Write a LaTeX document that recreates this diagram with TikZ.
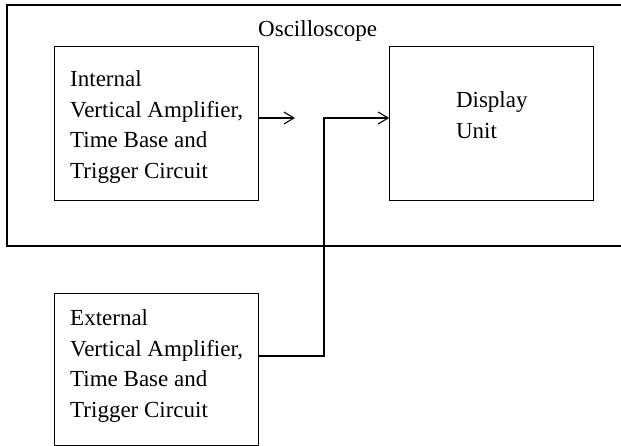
\documentclass[tikz,border=0pt]{standalone}
\usepackage{fontspec}
\setmainfont{Liberation Serif}
\usetikzlibrary{arrows.meta,positioning}
\newcommand{\boxfont}{\fontsize{23}{30.5}\selectfont}
\tikzset{
    %Define standard arrow tip
    >={Straight Barb[length=10pt,width=12pt]},
    %Define style for boxes
    block/.style={
           rectangle,
           draw=black, line width=1.2pt,
           minimum width=204pt,
           inner xsep=0pt,
           inner ysep=0pt,
           font=\boxfont,
           align=left},
    % Define frame and wire styles
    frame/.style={
           draw=black, line width=1.2pt},
    wire/.style={
           ->,
           line width=1.1pt}
}
\begin{document}
\begin{tikzpicture}[x=1pt,y=-1pt,node distance=130pt]

 \useasboundingbox (0,0) rectangle (621,446);
 \clip (0,0) rectangle (621,446);

 %frame
 \draw[frame] (7,5) rectangle (660,246);
 \node[anchor=base west, font=\boxfont, inner sep=0pt] (title) at (258,37) {Oscilloscope};

 %nodes
 \node[block, anchor=north west, text height=131.5pt, text depth=22.5pt] (internal) at (54,46)
    {Internal\\Vertical Amplifier,\\Time Base and\\Trigger Circuit};
 \node[block, right=of internal, text height=91.5pt, text depth=62.5pt] (display)
    {Display\\Unit};
 \node[block, below=92pt of internal, text height=123.5pt, text depth=28.5pt] (external)
    {External\\Vertical Amplifier,\\Time Base and\\Trigger Circuit};

 %connectors
 \coordinate (open end) at (295,118);
 \coordinate (joint) at (324,356);
 \draw[wire] (internal.east |- open end) -- (open end);
 \draw[wire] (external.east |- joint) -- (joint) |- (display.west |- open end);

\end{tikzpicture}
\end{document}
